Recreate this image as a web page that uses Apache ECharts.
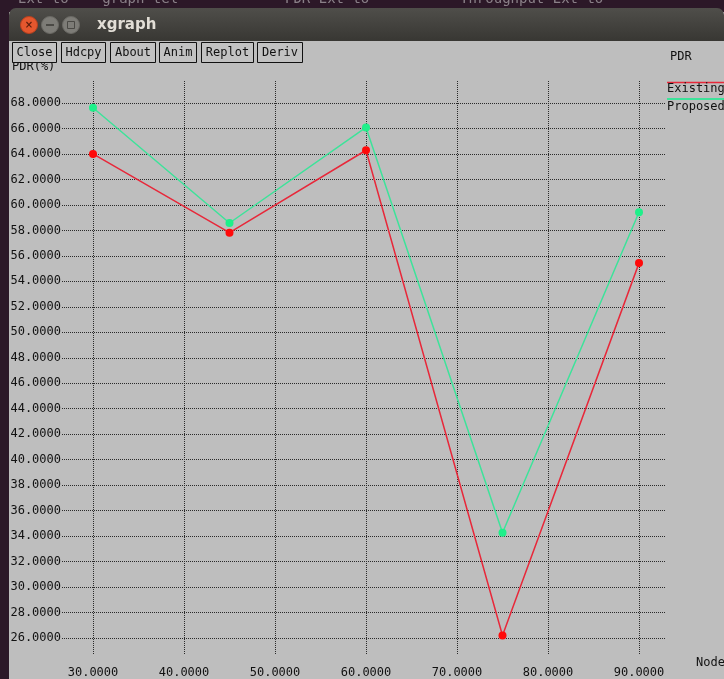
<!DOCTYPE html>
<html>
<head>
<meta charset="utf-8">
<script src="https://cdn.jsdelivr.net/npm/echarts@6/dist/echarts.min.js"></script>
<style>
  html, body { margin: 0; padding: 0; background: #bebebe; }
  #chart { width: 724px; height: 679px; }
</style>
</head>
<body>
<div id="chart"></div>
<script>
// Node counts on the x axis
const nodes = [30, 45, 60, 75, 90];
// Packet delivery ratio (%) per scheme
const existing = [64.0, 57.82, 64.29, 26.2, 55.43];
const proposed = [67.63, 58.58, 66.08, 34.26, 59.42];
// Axis ranges and steps
const xTickMin = 30, xTickMax = 90, xTickStep = 10;
const yTickMin = 26, yTickMax = 68, yTickStep = 2;
// Toolbar buttons of the xgraph window
const buttons = ['Close', 'Hdcpy', 'About', 'Anim', 'Replot', 'Deriv'];

const MONO = '"DejaVu Sans Mono", "Liberation Mono", monospace';
const dotted = { color: '#2a2a2a', width: 1, type: [1, 1] };
const fmt = v => v.toFixed(4);

// plot frame: the dotted horizontal rules run past the outer x ticks
const plotLeft = 62, plotRight = 666;
const xLeftPx = 93, xRightPx = 639;
const pxPerX = (xRightPx - xLeftPx) / (xTickMax - xTickMin);
const xMinWide = xTickMin - (xLeftPx - plotLeft) / pxPerX;
const xMaxWide = xTickMax + (plotRight - xRightPx) / pxPerX;

const chart = echarts.init(document.getElementById('chart'), null, { renderer: 'canvas' });

// window chrome and toolbar
const graphics = [
  { type: 'rect', shape: { x: 0, y: 0, width: 724, height: 12 }, style: { fill: '#2c1828' }, z: 1 },
  { type: 'rect', shape: { x: 0, y: 0, width: 9, height: 679 }, style: { fill: '#2c1828' }, z: 1 },
  { type: 'text', x: 18, y: -8, style: { text: 'Ext to    graph tel', font: '14px ' + MONO, fill: '#8a8088' }, z: 1 },
  { type: 'text', x: 285, y: -8, style: { text: 'PDR Ext to', font: '14px ' + MONO, fill: '#8a8088' }, z: 1 },
  { type: 'text', x: 460, y: -8, style: { text: 'Throughput Ext to', font: '14px ' + MONO, fill: '#8a8088' }, z: 1 },
  {
    type: 'rect', shape: { x: 9, y: 8, width: 715, height: 33, r: [7, 7, 0, 0] },
    style: { fill: new echarts.graphic.LinearGradient(0, 0, 0, 1, [
      { offset: 0, color: '#4f4e4a' }, { offset: 1, color: '#383733' }]) }, z: 2
  },
  { type: 'circle', shape: { cx: 29, cy: 25, r: 8.5 }, style: { fill: '#e4572e', stroke: '#b8401e', lineWidth: 1 }, z: 3 },
  { type: 'text', x: 29, y: 25, style: { text: '×', font: 'bold 10px "DejaVu Sans"', fill: '#5a1d0c', align: 'center', verticalAlign: 'middle' }, z: 4 },
  { type: 'circle', shape: { cx: 50, cy: 25, r: 8.5 }, style: { fill: '#7d7c77', stroke: '#6a6964', lineWidth: 1 }, z: 3 },
  { type: 'rect', shape: { x: 46, y: 24, width: 8, height: 2 }, style: { fill: '#4a4945' }, z: 4 },
  { type: 'circle', shape: { cx: 71, cy: 25, r: 8.5 }, style: { fill: '#7d7c77', stroke: '#6a6964', lineWidth: 1 }, z: 3 },
  { type: 'rect', shape: { x: 67.5, y: 21.5, width: 7, height: 7 }, style: { fill: 'none', stroke: '#4a4945', lineWidth: 1 }, z: 4 },
  { type: 'text', x: 97, y: 25, style: { text: 'xgraph', font: 'bold 15px "DejaVu Sans"', fill: '#e2ded6', verticalAlign: 'middle' }, z: 3 },
  { type: 'text', x: 12, y: 67, style: { text: 'PDR(%)', font: '12px ' + MONO, fill: '#111', verticalAlign: 'middle' }, z: 5 },
  { type: 'text', x: 670, y: 57, style: { text: 'PDR', font: '12px ' + MONO, fill: '#111', verticalAlign: 'middle' }, z: 5 },
  // legend
  { type: 'line', shape: { x1: 667, y1: 82.5, x2: 724, y2: 82.5 }, style: { stroke: '#e8283a', lineWidth: 1.5 }, z: 5 },
  { type: 'text', x: 667, y: 89, style: { text: 'Existing', font: '12px ' + MONO, fill: '#111', verticalAlign: 'middle' }, z: 5 },
  { type: 'line', shape: { x1: 667, y1: 99, x2: 724, y2: 99 }, style: { stroke: '#3de39a', lineWidth: 2 }, z: 5 },
  { type: 'text', x: 667, y: 107, style: { text: 'Proposed', font: '12px ' + MONO, fill: '#111', verticalAlign: 'middle' }, z: 5 },
  { type: 'text', x: 696, y: 663, style: { text: 'Node', font: '12px ' + MONO, fill: '#111', verticalAlign: 'middle' }, z: 5 }
];

const btnX = [12, 61, 110, 159, 201, 257];
const btnW = [44, 44, 45, 37, 52, 45];
buttons.forEach((name, i) => {
  graphics.push({
    type: 'rect', shape: { x: btnX[i] + 0.5, y: 42.5, width: btnW[i], height: 20 },
    style: { fill: '#c2c2c2', stroke: '#111', lineWidth: 1 }, z: 6
  });
  graphics.push({
    type: 'text', x: btnX[i] + btnW[i] / 2 + 0.5, y: 53,
    style: { text: name, font: '12px ' + MONO, fill: '#111', align: 'center', verticalAlign: 'middle' }, z: 7
  });
});

chart.setOption({
  backgroundColor: '#bebebe',
  animation: false,
  grid: [
    // vertical rules and x labels
    { left: xLeftPx, width: xRightPx - xLeftPx, top: 81, height: 574 },
    // horizontal rules, y labels and the data
    { left: plotLeft, width: plotRight - plotLeft, top: 103, height: 535 }
  ],
  xAxis: [
    {
      gridIndex: 0, type: 'value', min: xTickMin, max: xTickMax, interval: xTickStep,
      axisLine: { show: false }, axisTick: { show: false },
      splitLine: { show: true, lineStyle: dotted },
      axisLabel: { formatter: fmt, margin: 12, color: '#111', fontFamily: MONO, fontSize: 12 }
    },
    {
      gridIndex: 1, type: 'value', min: xMinWide, max: xMaxWide, show: false
    }
  ],
  yAxis: [
    { gridIndex: 0, type: 'value', min: 0, max: 1, show: false },
    {
      gridIndex: 1, type: 'value', min: yTickMin, max: yTickMax, interval: yTickStep,
      axisLine: { show: false }, axisTick: { show: false },
      splitLine: { show: true, lineStyle: dotted },
      axisLabel: { formatter: fmt, margin: 1, color: '#111', fontFamily: MONO, fontSize: 12 }
    }
  ],
  graphic: graphics,
  series: [
    {
      name: 'Existing', type: 'line', xAxisIndex: 1, yAxisIndex: 1,
      data: nodes.map((n, i) => [n, existing[i]]),
      symbol: 'circle', symbolSize: 8, showAllSymbol: true,
      lineStyle: { color: '#e8283a', width: 1.5 },
      itemStyle: { color: '#ff0a0a' }, z: 3
    },
    {
      name: 'Proposed', type: 'line', xAxisIndex: 1, yAxisIndex: 1,
      data: nodes.map((n, i) => [n, proposed[i]]),
      symbol: 'circle', symbolSize: 8, showAllSymbol: true,
      lineStyle: { color: '#3de39a', width: 1.5 },
      itemStyle: { color: '#1ef08a' }, z: 3
    }
  ]
});
</script>
</body>
</html>
